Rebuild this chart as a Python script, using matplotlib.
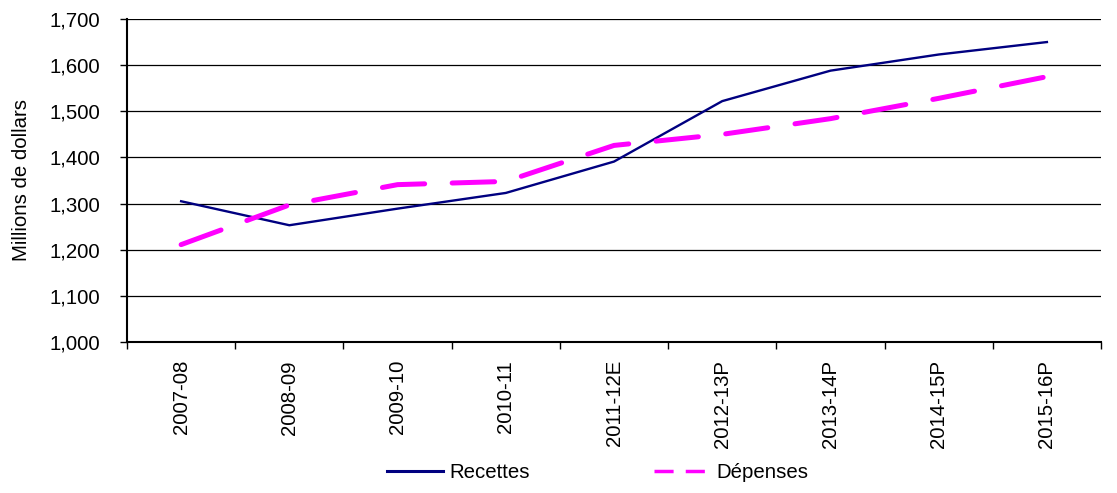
import matplotlib.pyplot as plt
from matplotlib.lines import Line2D
import numpy as np

plt.rcParams['font.family'] = ['Liberation Sans', 'DejaVu Sans']

years = ['2007-08', '2008-09', '2009-10', '2010-11', '2011-12E',
         '2012-13P', '2013-14P', '2014-15P', '2015-16P']
recettes = [1305, 1253, 1289, 1323, 1391, 1522, 1588, 1623, 1650]
depenses = [1211, 1297, 1341, 1348, 1426, 1450, 1484, 1528, 1575]
yticks = np.arange(1000, 1701, 100)

FS = 14.7
NAVY = '#000080'
MAGENTA = '#FF00FF'

fig = plt.figure(figsize=(11.17, 4.93), dpi=100)
ax = fig.add_axes([0.1137, 0.3063, 0.8720, 0.6552])

x = np.arange(len(years))
ax.plot(x, recettes, color=NAVY, linewidth=1.7, zorder=3)
ax.plot(x, depenses, color=MAGENTA, linewidth=3.6, dashes=(8.5, 5.5),
        dash_capstyle='round', zorder=3)

ax.set_xlim(-0.5, len(years) - 0.5)
ax.set_ylim(1000, 1700)
ax.set_yticks(yticks)
ax.set_yticklabels([f'{v:,}' for v in yticks])
ax.yaxis.grid(True, color='black', linewidth=0.9)
ax.set_axisbelow(True)

# category labels at centres, tick marks between categories
ax.set_xticks(x)
ax.set_xticklabels(years, rotation=90)
ax.set_xticks(np.arange(-0.5, len(years)), minor=True)
ax.tick_params(axis='x', which='major', length=0, pad=13, labelsize=FS)
ax.tick_params(axis='x', which='minor', length=5, width=1, color='black')
ax.tick_params(axis='y', length=5, width=1, pad=14.5, labelsize=FS)

for side in ['top', 'right']:
    ax.spines[side].set_visible(False)
for side in ['left', 'bottom']:
    ax.spines[side].set_linewidth(1.5)
    ax.spines[side].set_color('black')

ax.set_ylabel('Millions de dollars', fontsize=FS)
ax.yaxis.set_label_coords(-0.099, 0.5)

handles = [Line2D([], [], color=NAVY, linewidth=2.2),
           Line2D([], [], color=MAGENTA, linewidth=2.5, dashes=(5.5, 3.5))]
fig.legend(handles, ['Recettes', 'Dépenses'], loc='lower center',
           bbox_to_anchor=(0.535, -0.015), ncol=2, frameon=False, fontsize=FS,
           handlelength=2.75, handletextpad=0.3, columnspacing=6.1)

fig.savefig('out.png', dpi=100)
